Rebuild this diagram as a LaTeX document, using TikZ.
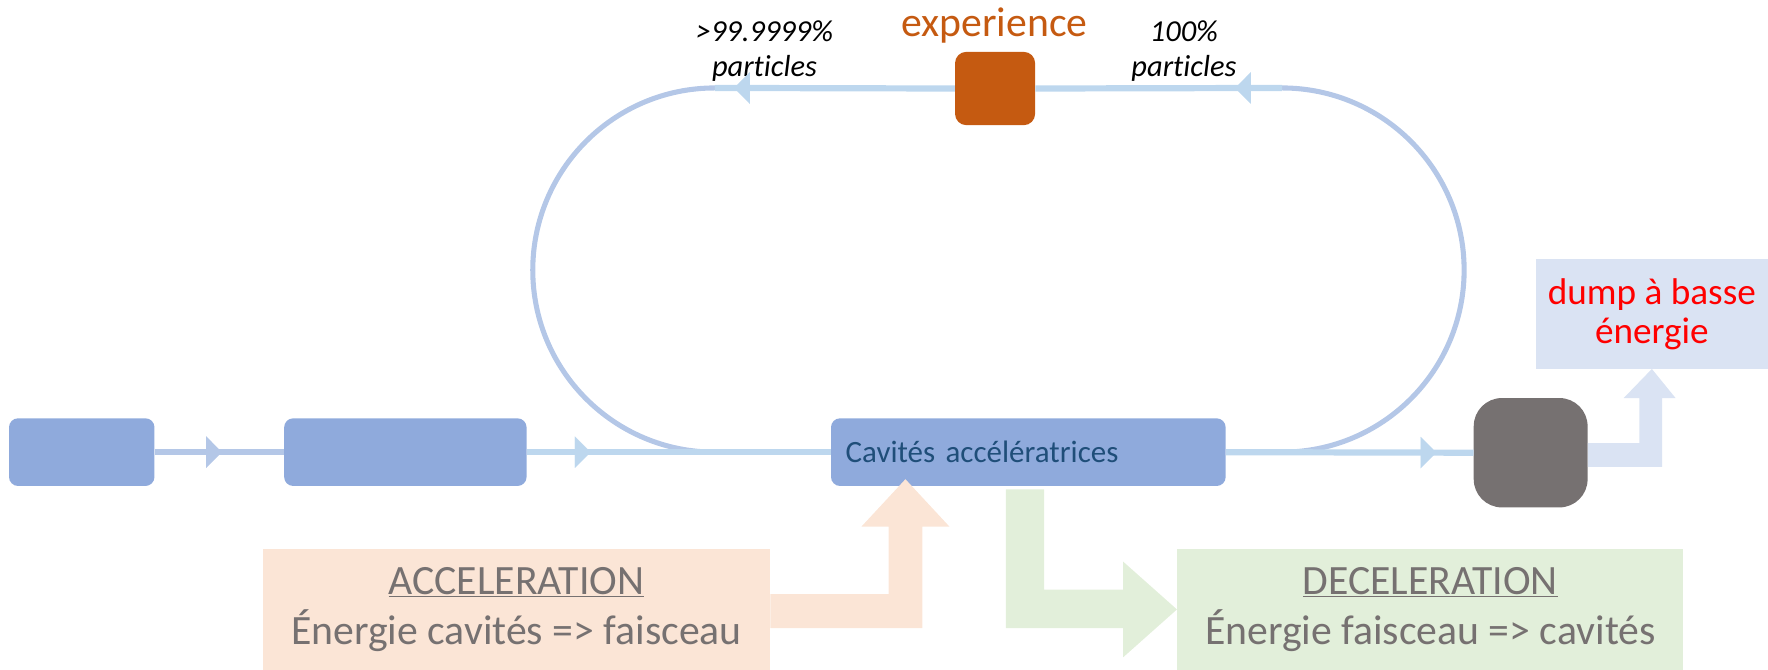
\documentclass[tikz,border=0pt]{standalone}
\usepackage{fontspec}
\setmainfont{Carlito}[Ligatures={TeX,NoCommon}]
\usetikzlibrary{arrows.meta,decorations.markings}

\definecolor{boxblue}{HTML}{8FAADC}
\definecolor{ringblue}{HTML}{B4C7E7}
\definecolor{beamblue}{HTML}{BDD7EE}
\definecolor{expo}{HTML}{C55A11}
\definecolor{bingray}{HTML}{767171}
\definecolor{dumpblue}{HTML}{DAE3F3}
\definecolor{peach}{HTML}{FBE5D6}
\definecolor{lightgreen}{HTML}{E2EFDA}
\definecolor{cavtext}{HTML}{1F4E79}

\begin{document}
\begin{tikzpicture}[x=1pt,y=-1pt,
	box/.style={fill=boxblue, rounded corners=8pt, inner sep=0pt, minimum height=60pt},
	beam/.style={line width=5.5pt, color=beamblue},
	ring/.style={line width=4.5pt, color=ringblue},
	midarrow/.style={postaction={decorate}, decoration={markings,
		mark=at position #1 with {\arrow{Triangle[length=14pt,width=28pt,line width=0.1pt]}}}},
	energy/.style={inner sep=0pt, minimum width=450pt, minimum height=107pt, align=center,
		text=bingray, font=\fontsize{37}{44}\selectfont},
	pct/.style={align=center, font=\fontsize{27}{31}\selectfont\itshape}]
		\useasboundingbox (0,0) rectangle (1568,594);

		\draw (72.5,401) node [box, minimum width=129pt] (src) {};
		\draw (359.5,401) node [box, minimum width=215pt] (lin) {};
		\draw (912,401) node [box, text width=324pt, inner xsep=13pt, align=left, text=cavtext,
			font=\fontsize{27.5}{33}\selectfont] (cav) {Cavités accélératrices};
		\draw (882.5,78.5) node [fill=expo, rounded corners=10pt, minimum width=71pt, minimum height=65pt] (exp) {};
		\draw (1357.5,401.5) node [fill=bingray, rounded corners=25pt, minimum width=101pt, minimum height=97pt] (bin) {};
		\draw (1465,278.5) node [fill=dumpblue, minimum width=206pt, minimum height=97pt, align=center,
			text=red, font=\fontsize{33}{35}\selectfont] (dump) {dump à basse\\énergie};

		\draw (882,32) node [anchor=base, text=expo, font=\fontsize{37}{44}\selectfont] (exptxt) {experience};
		\draw (678,45) node [pct] (lost) {>99.9999\%\\particles};
		\draw (1050,45) node [pct] (full) {100\%\\particles};

		\coordinate (tl) at (634,78);
		\coordinate (bl) at (634,401);
		\coordinate (tr) at (1137,78);
		\coordinate (br) at (1137,401);

		\draw [ring] (tl) arc [start angle=270, end angle=90, radius=161.5];
		\draw [ring] (br) arc [start angle=90, end angle=-90, radius=161.5];

		\draw [line width=5.5pt, color=ringblue, midarrow=0.52] (src.east) -- (lin.west);
		\draw [beam, midarrow=0.21] (lin.east) -- (cav.west);
		\draw [beam, midarrow=0.85] (cav.east) -- (bin.west);
		\draw [beam, midarrow=0.19] (tr) -- (exp.east);
		\draw [beam, midarrow=0.92] (exp.west) -- (tl);

		\fill [dumpblue] (bin.east |- 0,393) -- (1454,393) -- (1454,353) -- (1440,353) -- (dump.south)
			-- (1486,353) -- (1474,353) -- (1474,414) -- (bin.east |- 0,414) -- cycle;

		\draw (458,540.5) node [energy, fill=peach] (acc) {\underline{ACCELERATION}\\Énergie cavités => faisceau};
		\draw (1268.5,540.5) node [energy, fill=lightgreen, minimum width=449pt] (dec) {\underline{DECELERATION}\\Énergie faisceau => cavités};

		\fill [peach] (acc.east |- 0,527) -- (788,527) -- (788,467) -- (764,467) -- (803,425)
			-- (842,467) -- (818,467) -- (818,557) -- (acc.east |- 0,557) -- cycle;
		\fill [lightgreen] (892,434) -- (926,434) -- (926,523) -- (996,523) -- (996,498) -- (dec.west)
			-- (996,583) -- (996,557) -- (892,557) -- cycle;
\end{tikzpicture}
\end{document}
